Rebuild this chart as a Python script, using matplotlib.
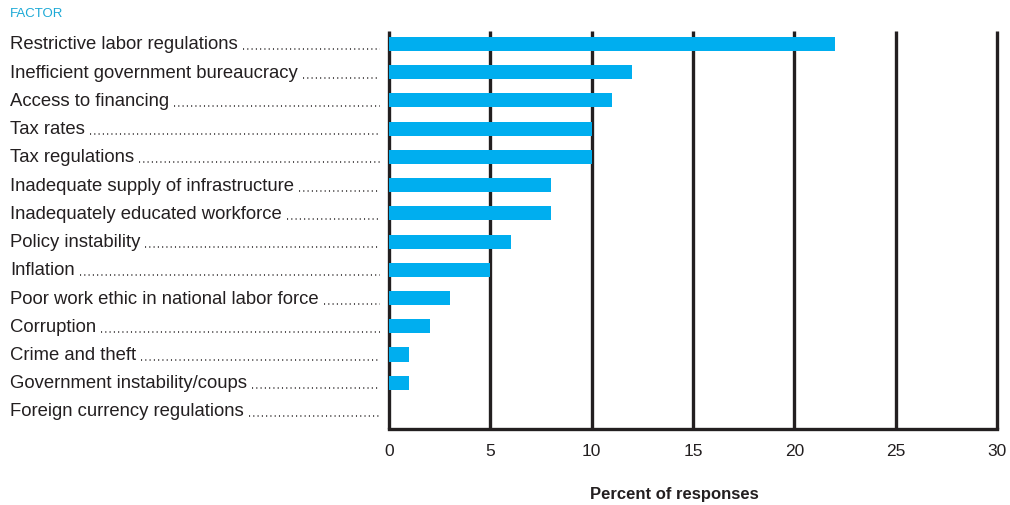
import matplotlib
matplotlib.use("Agg")
import matplotlib.pyplot as plt

factors = [
    "Restrictive labor regulations",
    "Inefficient government bureaucracy",
    "Access to financing",
    "Tax rates",
    "Tax regulations",
    "Inadequate supply of infrastructure",
    "Inadequately educated workforce",
    "Policy instability",
    "Inflation",
    "Poor work ethic in national labor force",
    "Corruption",
    "Crime and theft",
    "Government instability/coups",
    "Foreign currency regulations",
]
values = [22, 12, 11, 10, 10, 8, 8, 6, 5, 3, 2, 1, 1, 0]
xticks = [0, 5, 10, 15, 20, 25, 30]

label_font = "Liberation Sans"

W, H = 1010, 506
fig = plt.figure(figsize=(W / 100, H / 100), dpi=100)
ax = fig.add_axes([389 / W, 1 - 430 / H, (997 - 389) / W, (430 - 32) / H])

blue = "#00AEEF"
dark = "#231f20"
ypos = list(range(len(factors)))
ax.barh(ypos, values, height=0.5, color=blue, zorder=3)
for t in xticks:
    ax.axvline(t, color=dark, lw=2.4, zorder=2, clip_on=False,
               solid_capstyle="butt")
ax.set_xlim(0, 30)
ax.set_ylim(13.64, -0.46)
for s in ["top", "right", "left"]:
    ax.spines[s].set_visible(False)
ax.spines["bottom"].set_linewidth(2.4)
ax.spines["bottom"].set_color(dark)
ax.spines["bottom"].set_capstyle("projecting")
ax.set_yticks([])
ax.set_xticks(xticks)
ax.set_xticklabels([str(t) for t in xticks], fontfamily=label_font, fontsize=12.5,
                   color=dark)
ax.tick_params(axis="x", length=0, pad=10)

fig.text(674 / W, 1 - 495 / H, "Percent of responses",
         fontfamily=label_font, fontsize=12, fontweight="bold", color=dark,
         ha="center", va="center")

fig.text(10 / W, 1 - 14 / H, "FACTOR", color="#1CA9D6", fontsize=9.5,
         fontfamily=label_font, va="center", ha="left")

fig.canvas.draw()
renderer = fig.canvas.get_renderer()
trans = ax.transData
for i, f in enumerate(factors):
    ypix = trans.transform((0, i))[1]
    t = fig.text(10 / W, ypix / H, f, fontsize=13.3, fontfamily=label_font,
                 va="center", ha="left", color=dark)
    bb = t.get_window_extent(renderer)
    x0 = bb.x1 + 5
    x1 = 380
    yl = ypix - 5.5
    fig.add_artist(plt.Line2D([x0 / W, x1 / W], [yl / H, yl / H],
                              transform=fig.transFigure, color=dark,
                              lw=1.1, linestyle=(0, (0.7, 2.1)),
                              dash_capstyle="butt"))

fig.savefig("out.png", dpi=100)
